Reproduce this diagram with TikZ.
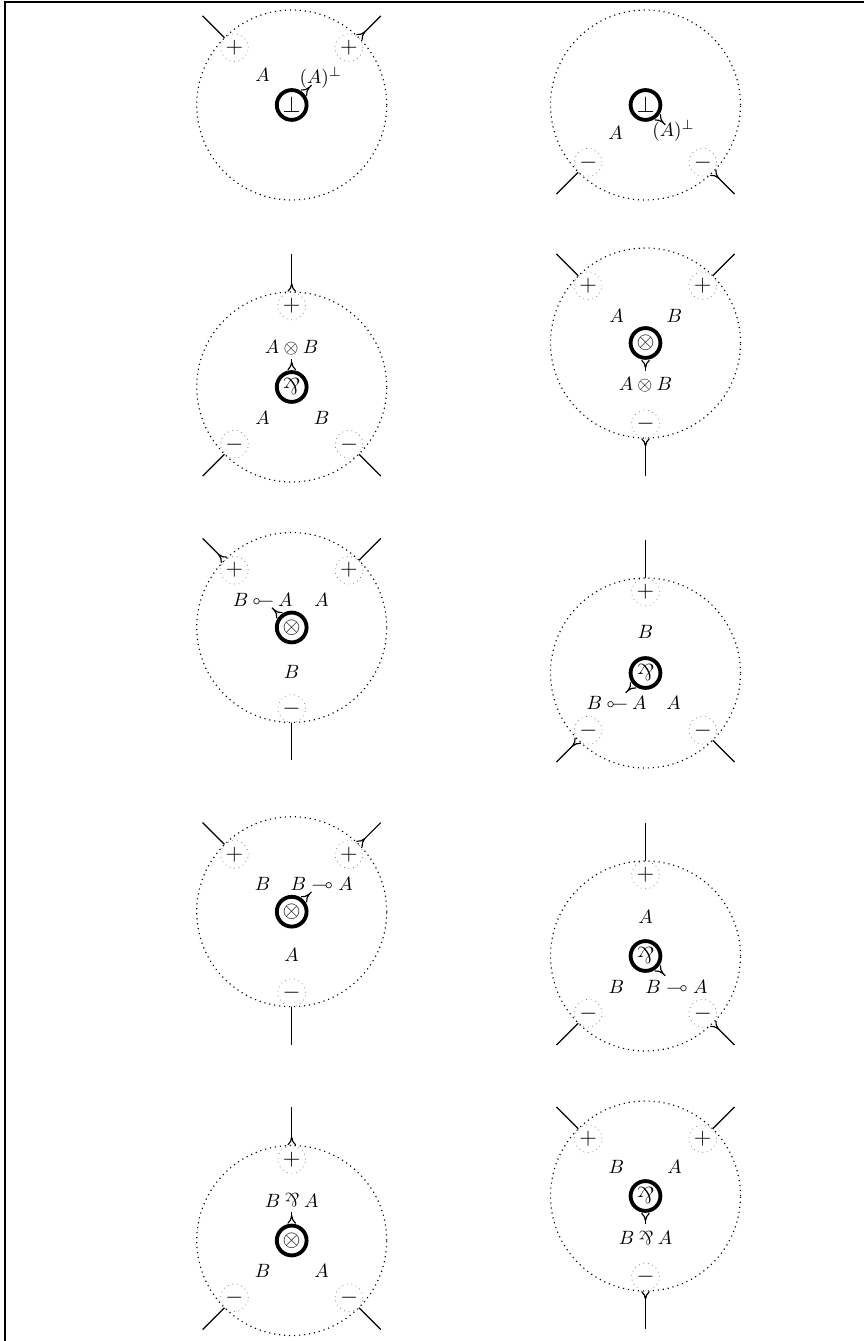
\documentclass[tikz,border=0pt]{standalone}
\usepackage{amsmath,amssymb}
\usepackage{graphicx}
\usetikzlibrary{positioning,arrows.meta,calc}

\newcommand{\parrsym}{\mathbin{\rotatebox[origin=c]{180}{$\&$}}}
\newcommand{\limpinv}{\mathbin{\reflectbox{$\multimap$}}}

\begin{document}
\begin{tikzpicture}[
    x=0.52pt, y=0.52pt,
    zone/.style={draw, semithick, dotted, circle, minimum size=98.8pt, inner sep=0pt},
    port/.style={draw=gray, dotted, circle, minimum size=14.4pt, inner sep=0pt, font=\large},
    cell/.style={draw, line width=2pt, circle, minimum size=15.5pt, inner sep=0pt, font=\large},
    lbl/.style={inner sep=0pt},
    wire/.style={semithick},
    tipwire/.style={semithick, {To[reversed, length=4.5pt, width=4.5pt]}-},
    ptr/.style={semithick, {To[reversed, length=4.5pt, width=4.5pt]}-}
]
\useasboundingbox (0,0) rectangle (864,1341);
\draw[line width=0.9pt] (5,0) -- (5,1339) -- (864,1339);

\begin{scope}[shift={(291.7,1236)}]
\node[zone] (z1) at (0,0) {};
\node[cell] (c1) at (0,0) {$\bot$};
\node[port] (p1l) at (135:81) {$+$};
\node[port] (p1r) at (45:81) {$+$};
\coordinate (e1l) at (135:126);
\coordinate (e1r) at (45:126);
\coordinate (t1) at (45:28);
\node[lbl] (l1a) at (-29,30) {$A$};
\node[lbl] (l1b) at (29,27) {$(A)^{\bot}$};
\draw[wire] (p1l) -- (e1l);
\draw[tipwire] (p1r) -- (e1r);
\draw[ptr] (c1) -- (t1);
\end{scope}

\begin{scope}[shift={(645.5,1236)}]
\node[zone] (z2) at (0,0) {};
\node[cell] (c2) at (0,0) {$\bot$};
\node[port] (p2l) at (225:81) {$-$};
\node[port] (p2r) at (315:81) {$-$};
\coordinate (e2l) at (225:126);
\coordinate (e2r) at (315:126);
\coordinate (t2) at (315:28);
\node[lbl] (l2a) at (-30,-28) {$A$};
\node[lbl] (l2b) at (28,-26) {$(A)^{\bot}$};
\draw[wire] (p2l) -- (e2l);
\draw[tipwire] (p2r) -- (e2r);
\draw[ptr] (c2) -- (t2);
\end{scope}

\begin{scope}[shift={(291.7,954)}]
\node[zone] (z3) at (0,0) {};
\node[cell] (c3) at (0,0) {$\parrsym$};
\node[port] (p3t) at (90:81) {$+$};
\node[port] (p3l) at (225:81) {$-$};
\node[port] (p3r) at (315:81) {$-$};
\coordinate (e3t) at (90:133);
\coordinate (e3l) at (225:126);
\coordinate (e3r) at (315:126);
\coordinate (t3) at (90:28);
\node[lbl] (l3c) at (0,39) {$A\otimes B$};
\node[lbl] (l3a) at (-29,-31) {$A$};
\node[lbl] (l3b) at (30,-31) {$B$};
\draw[tipwire] (p3t) -- (e3t);
\draw[wire] (p3l) -- (e3l);
\draw[wire] (p3r) -- (e3r);
\draw[ptr] (c3) -- (t3);
\end{scope}

\begin{scope}[shift={(645.5,998)}]
\node[zone] (z4) at (0,0) {};
\node[cell] (c4) at (0,0) {$\otimes$};
\node[port] (p4l) at (135:81) {$+$};
\node[port] (p4r) at (45:81) {$+$};
\node[port] (p4b) at (270:81) {$-$};
\coordinate (e4l) at (135:126);
\coordinate (e4r) at (45:126);
\coordinate (e4b) at (270:133);
\coordinate (t4) at (270:28);
\node[lbl] (l4a) at (-29,27) {$A$};
\node[lbl] (l4b) at (29,27) {$B$};
\node[lbl] (l4c) at (0,-42) {$A\otimes B$};
\draw[wire] (p4l) -- (e4l);
\draw[wire] (p4r) -- (e4r);
\draw[tipwire] (p4b) -- (e4b);
\draw[ptr] (c4) -- (t4);
\end{scope}

\begin{scope}[shift={(291.7,713.5)}]
\node[zone] (z5) at (0,0) {};
\node[cell] (c5) at (0,0) {$\otimes$};
\node[port] (p5l) at (135:81) {$+$};
\node[port] (p5r) at (45:81) {$+$};
\node[port] (p5b) at (270:81) {$-$};
\coordinate (e5l) at (135:126);
\coordinate (e5r) at (45:126);
\coordinate (e5b) at (270:133);
\coordinate (t5) at (135:28);
\node[lbl] (l5c) at (-29,28) {$B\limpinv A$};
\node[lbl] (l5a) at (30,28) {$A$};
\node[lbl] (l5b) at (0,-44) {$B$};
\draw[tipwire] (p5l) -- (e5l);
\draw[wire] (p5r) -- (e5r);
\draw[wire] (p5b) -- (e5b);
\draw[ptr] (c5) -- (t5);
\end{scope}

\begin{scope}[shift={(645.5,668)}]
\node[zone] (z6) at (0,0) {};
\node[cell] (c6) at (0,0) {$\parrsym$};
\node[port] (p6t) at (90:81) {$+$};
\node[port] (p6l) at (225:81) {$-$};
\node[port] (p6r) at (315:81) {$-$};
\coordinate (e6t) at (90:133);
\coordinate (e6l) at (225:126);
\coordinate (e6r) at (315:126);
\coordinate (t6) at (225:28);
\node[lbl] (l6b) at (0,41) {$B$};
\node[lbl] (l6c) at (-29,-30) {$B\limpinv A$};
\node[lbl] (l6a) at (28,-30) {$A$};
\draw[wire] (p6t) -- (e6t);
\draw[tipwire] (p6l) -- (e6l);
\draw[wire] (p6r) -- (e6r);
\draw[ptr] (c6) -- (t6);
\end{scope}

\begin{scope}[shift={(291.7,429.3)}]
\node[zone] (z7) at (0,0) {};
\node[cell] (c7) at (0,0) {$\otimes$};
\node[port] (p7l) at (135:81) {$+$};
\node[port] (p7r) at (45:81) {$+$};
\node[port] (p7b) at (270:81) {$-$};
\coordinate (e7l) at (135:126);
\coordinate (e7r) at (45:126);
\coordinate (e7b) at (270:133);
\coordinate (t7) at (45:28);
\node[lbl] (l7b) at (-29,28) {$B$};
\node[lbl] (l7c) at (30,28) {$B\multimap A$};
\node[lbl] (l7a) at (0,-43) {$A$};
\draw[wire] (p7l) -- (e7l);
\draw[tipwire] (p7r) -- (e7r);
\draw[wire] (p7b) -- (e7b);
\draw[ptr] (c7) -- (t7);
\end{scope}

\begin{scope}[shift={(645.5,385)}]
\node[zone] (z8) at (0,0) {};
\node[cell] (c8) at (0,0) {$\parrsym$};
\node[port] (p8t) at (90:81) {$+$};
\node[port] (p8l) at (225:81) {$-$};
\node[port] (p8r) at (315:81) {$-$};
\coordinate (e8t) at (90:133);
\coordinate (e8l) at (225:126);
\coordinate (e8r) at (315:126);
\coordinate (t8) at (315:28);
\node[lbl] (l8a) at (0,39) {$A$};
\node[lbl] (l8b) at (-29,-31) {$B$};
\node[lbl] (l8c) at (31,-31) {$B\multimap A$};
\draw[wire] (p8t) -- (e8t);
\draw[wire] (p8l) -- (e8l);
\draw[tipwire] (p8r) -- (e8r);
\draw[ptr] (c8) -- (t8);
\end{scope}

\begin{scope}[shift={(291.7,100.5)}]
\node[zone] (z9) at (0,0) {};
\node[cell] (c9) at (0,0) {$\otimes$};
\node[port] (p9t) at (90:81) {$+$};
\node[port] (p9l) at (225:81) {$-$};
\node[port] (p9r) at (315:81) {$-$};
\coordinate (e9t) at (90:133);
\coordinate (e9l) at (225:126);
\coordinate (e9r) at (315:126);
\coordinate (t9) at (90:28);
\node[lbl] (l9c) at (0,40) {$B\parrsym A$};
\node[lbl] (l9b) at (-29,-30) {$B$};
\node[lbl] (l9a) at (30,-30) {$A$};
\draw[tipwire] (p9t) -- (e9t);
\draw[wire] (p9l) -- (e9l);
\draw[wire] (p9r) -- (e9r);
\draw[ptr] (c9) -- (t9);
\end{scope}

\begin{scope}[shift={(645.5,145)}]
\node[zone] (z10) at (0,0) {};
\node[cell] (c10) at (0,0) {$\parrsym$};
\node[port] (p10l) at (135:81) {$+$};
\node[port] (p10r) at (45:81) {$+$};
\node[port] (p10b) at (270:81) {$-$};
\coordinate (e10l) at (135:126);
\coordinate (e10r) at (45:126);
\coordinate (e10b) at (270:133);
\coordinate (t10) at (270:28);
\node[lbl] (l10b) at (-29,29) {$B$};
\node[lbl] (l10a) at (29,29) {$A$};
\node[lbl] (l10c) at (0,-42) {$B\parrsym A$};
\draw[wire] (p10l) -- (e10l);
\draw[wire] (p10r) -- (e10r);
\draw[tipwire] (p10b) -- (e10b);
\draw[ptr] (c10) -- (t10);
\end{scope}
\end{tikzpicture}
\end{document}
